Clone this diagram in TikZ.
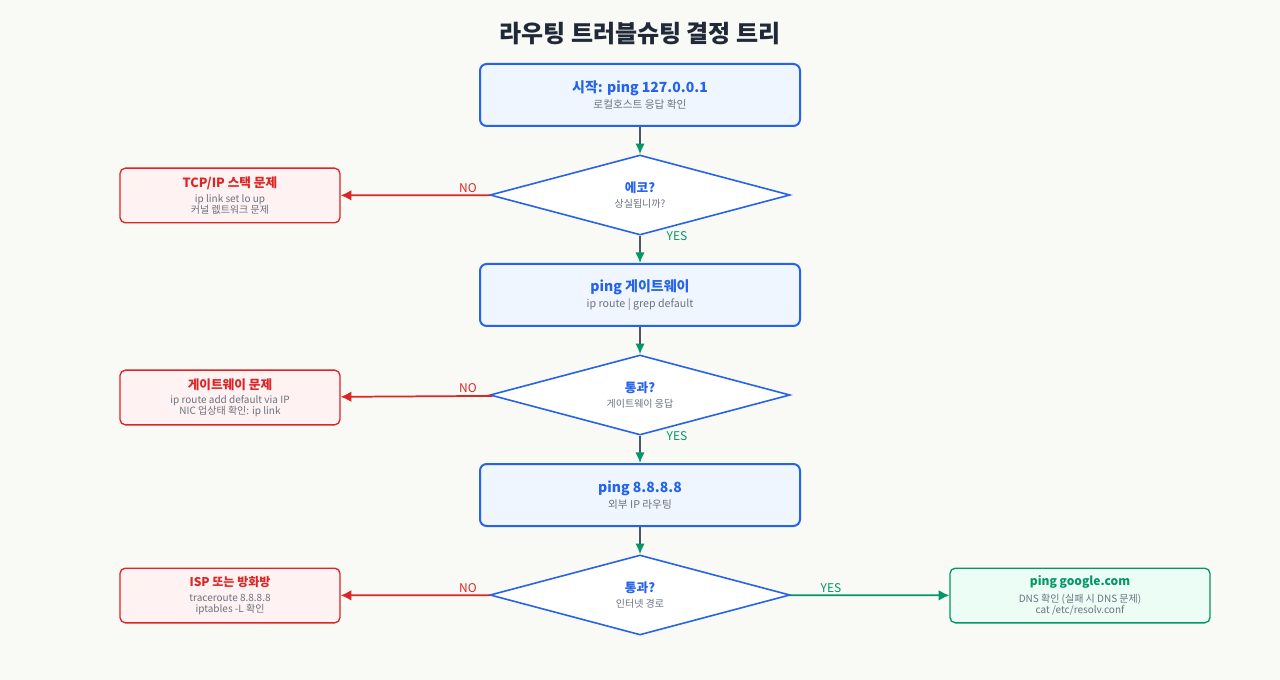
\documentclass[tikz,border=0pt]{standalone}
\usepackage{fontspec}
\setmainfont{Noto Sans CJK KR}
\usetikzlibrary{arrows.meta, shapes.geometric, positioning}
\definecolor{bg}{HTML}{F9F9F6}
\definecolor{blueline}{HTML}{2563EB}
\definecolor{bluefill}{HTML}{EFF6FF}
\definecolor{redline}{HTML}{DC2626}
\definecolor{redfill}{HTML}{FEF2F2}
\definecolor{greenline}{HTML}{059669}
\definecolor{greenfill}{HTML}{ECFDF5}
\definecolor{subtext}{HTML}{6B7280}
\definecolor{titletext}{HTML}{1F2937}
\definecolor{stub}{HTML}{4B5563}

\begin{document}
\begin{tikzpicture}[x=0.75pt, y=-0.75pt,
    stepbox/.style={draw=blueline, fill=bluefill, line width=1.5pt, rounded corners=5pt,
        minimum width=240pt, minimum height=46.5pt, align=center, font=\fontsize{8}{10}\selectfont\color{subtext}},
    question/.style={diamond, draw=blueline, fill=white, line width=1.2pt, aspect=3.75,
        minimum width=225pt, minimum height=60pt, inner sep=0pt, align=center, font=\fontsize{7.5}{10}\selectfont\color{subtext}},
    failbox/.style={draw=redline, fill=redfill, line width=1pt, rounded corners=4pt,
        minimum width=165pt, minimum height=41pt, align=center, font=\fontsize{7.5}{8}\selectfont\color{subtext}},
    okbox/.style={draw=greenline, fill=greenfill, line width=1pt, rounded corners=4pt,
        minimum width=195pt, minimum height=41pt, align=center, font=\fontsize{7.5}{8}\selectfont\color{subtext}},
    flow/.style={stub, line width=1pt, -{Latex[length=8pt, width=7pt, color=greenline]}},
    noarrow/.style={redline, line width=1.3pt, -{Latex[length=8pt, width=8pt]}},
    yesarrow/.style={greenline, line width=1.3pt, -{Latex[length=8pt, width=8pt]}},
    nolabel/.style={text=redline, font=\fontsize{9}{10}\selectfont},
    yeslabel/.style={text=greenline, font=\fontsize{9}{10}\selectfont}
    ]
    \fill[bg] (0,0) rectangle (1280,680);
    \useasboundingbox (0,0) rectangle (1280,680);

    %% Title
    \node[text=titletext, font=\fontsize{18}{20}\selectfont\bfseries] (title) at (640,34) {라우팅 트러블슈팅 결정 트리};

    %% Main column
    \node[stepbox] (start) at (640,95) {{\fontsize{10.5}{13}\selectfont\bfseries\color{blueline}시작: ping 127.0.0.1}\\[2pt]로컬호스트 응답 확인};
    \node[question] (echo) at (640,195) {{\fontsize{9.5}{12}\selectfont\bfseries\color{blueline}에코?}\\[1pt]상실됩니까?};
    \node[stepbox] (gw) at (640,295) {{\fontsize{10.5}{13}\selectfont\bfseries\color{blueline}ping 게이트웨이}\\[2pt]ip route | grep default};
    \node[question] (pass1) at (640,395) {{\fontsize{9.5}{12}\selectfont\bfseries\color{blueline}통과?}\\[1pt]게이트웨이 응답};
    \node[stepbox] (ext) at (640,495) {{\fontsize{10.5}{13}\selectfont\bfseries\color{blueline}ping 8.8.8.8}\\[2pt]외부 IP 라우팅};
    \node[question] (pass2) at (640,595) {{\fontsize{9.5}{12}\selectfont\bfseries\color{blueline}통과?}\\[1pt]인터넷 경로};

    %% Outcomes
    \node[failbox] (stack) at (230,195.5) {{\fontsize{9.5}{12}\selectfont\bfseries\color{redline}TCP/IP 스택 문제}\\[3pt]ip link set lo up\\커널 렚트워크 문제};
    \node[failbox] (gwfail) at (230,397.5) {{\fontsize{9.5}{12}\selectfont\bfseries\color{redline}게이트웨이 문제}\\[3pt]ip route add default via IP\\NIC 업상태 확인: ip link};
    \node[failbox] (isp) at (230,595.5) {{\fontsize{9}{12}\selectfont\bfseries\color{redline}ISP 또는 방화방}\\[3pt]traceroute 8.8.8.8\\iptables -L 확인};
    \node[okbox] (dns) at (1080,595.5) {{\fontsize{9}{12}\selectfont\bfseries\color{greenline}ping google.com}\\[3pt]DNS 확인 (실패 시 DNS 문제)\\cat /etc/resolv.conf};

    %% Connectors
    \draw[flow] (start) -- (echo);
    \draw[flow] (echo) -- (gw);
    \draw[flow] (gw) -- (pass1);
    \draw[flow] (pass1) -- (ext);
    \draw[flow] (ext) -- (pass2);
    \draw[noarrow] (echo) -- (stack);
    \draw[noarrow] (pass1) -- (gwfail);
    \draw[noarrow] (pass2) -- (isp);
    \draw[yesarrow] (pass2) -- (dns);

    %% Labels
    \node[nolabel] at (468,188) {NO};
    \node[nolabel] at (468,388) {NO};
    \node[nolabel] at (468,588) {NO};
    \node[yeslabel] at (677,236) {YES};
    \node[yeslabel] at (677,436) {YES};
    \node[yeslabel] at (831,588) {YES};
\end{tikzpicture}
\end{document}
